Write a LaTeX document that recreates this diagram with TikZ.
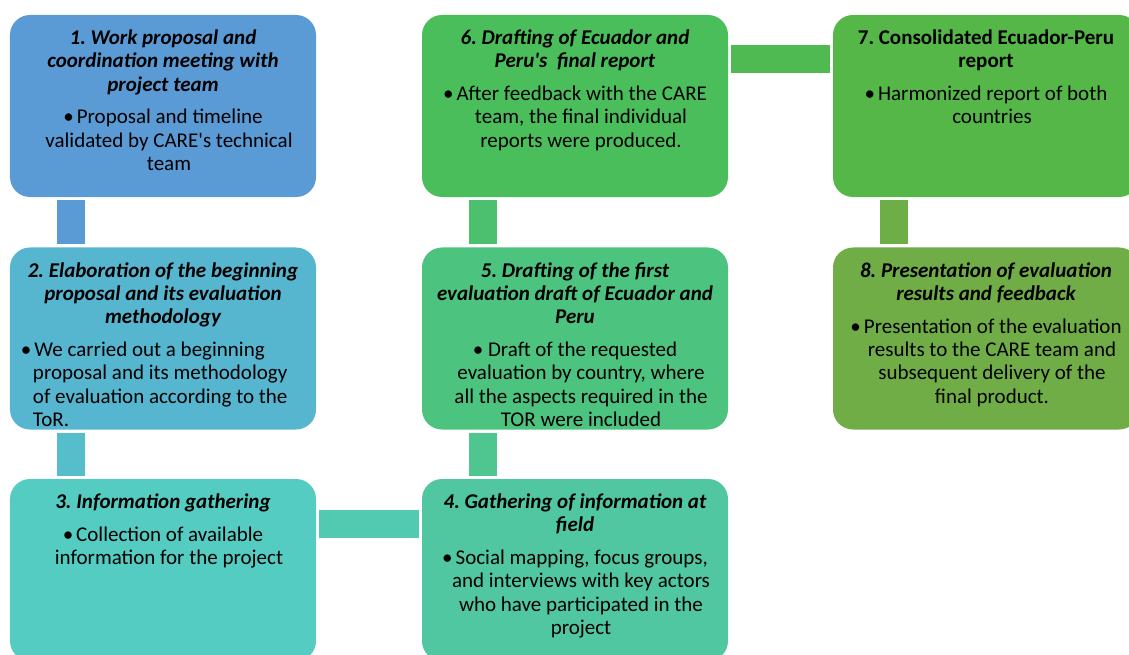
\documentclass[tikz,border=0pt]{standalone}
\usepackage{fontspec}
\setmainfont{Carlito}[Ligatures=TeXOff]
\usepackage{tikz}
\frenchspacing

\definecolor{stepA}{RGB}{91,155,213}
\definecolor{stepB}{RGB}{86,181,207}
\definecolor{stepC}{RGB}{84,204,194}
\definecolor{stepD}{RGB}{80,199,160}
\definecolor{stepE}{RGB}{77,195,128}
\definecolor{stepF}{RGB}{75,190,92}
\definecolor{stepG}{RGB}{84,183,72}
\definecolor{stepH}{RGB}{112,173,71}

% card text: title on top, bullet text below
\newcommand{\card}[2]{\parbox[c][182bp][t]{306bp}{\centering\rule{0pt}{29.5bp}{#1\par}\vspace{9.5bp}#2}}
\newcommand{\indline}{\\\hspace*{12bp}}
\newcommand{\bul}{\textbullet\hspace{3bp}}

\begin{document}
\begin{tikzpicture}[x=1bp,y=-1bp, line cap=butt,
  stepbox/.style={rounded corners=20bp, inner sep=0pt, outer sep=0pt,
    font=\fontsize{21bp}{23.3bp}\selectfont},
  bar/.style={line width=28bp, shorten <=3bp, shorten >=3bp}]
\useasboundingbox (0,0) rectangle (1129,655);

\node (s1) at (163,106) [stepbox, fill=stepA] {\card{\bfseries\itshape 1. Work proposal and\\coordination meeting with\\project team}{\bul Proposal and timeline\indline validated by CARE's technical\indline team}};
\node (s2) at (163,338.5) [stepbox, fill=stepB] {\card{\bfseries\itshape 2. Elaboration of the beginning\\proposal and its evaluation\\methodology}{{\raggedright\leftskip=23bp\hspace{-12bp}\bul We carried out a beginning\\proposal and its methodology\\of evaluation according to the\\ToR.\par}}};
\node (s3) at (163,570) [stepbox, fill=stepC] {\card{\bfseries\itshape 3. Information gathering}{\bul Collection of available\indline information for the project}};
\node (s4) at (575,570) [stepbox, fill=stepD] {\card{\bfseries\itshape 4. Gathering of information at\\field}{\bul Social mapping, focus groups,\indline and interviews with key actors\indline who have participated in the\indline project}};
\node (s5) at (575,338.5) [stepbox, fill=stepE] {\card{\bfseries\itshape 5. Drafting of the first\\evaluation draft of Ecuador and\\Peru}{\textbullet\ Draft of the requested\indline evaluation by country, where\indline all the aspects required in the\indline TOR were included}};
\node (s6) at (575,106) [stepbox, fill=stepF] {\card{\bfseries\itshape 6. Drafting of Ecuador and\\Peru's~ final report}{\bul After feedback with the CARE\indline team, the final individual\indline reports were produced.}};
\node (s7) at (986,106) [stepbox, fill=stepG] {\card{\bfseries 7. Consolidated Ecuador-Peru\\report}{\bul Harmonized report of both\indline countries}};
\node (s8) at (986,338.5) [stepbox, fill=stepH] {\card{\bfseries\itshape 8. Presentation of evaluation\\results and feedback}{\bul Presentation of the evaluation\indline results to the CARE team and\indline subsequent delivery of the\indline final product.}};

% connecting bars
\draw[bar, draw=stepA] ([xshift=61bp]s1.south west) -- ([xshift=61bp]s2.north west);
\draw[bar, draw=stepB!60!stepC] ([xshift=61bp]s2.south west) -- ([xshift=61bp]s3.north west);
\draw[bar, draw=stepC!50!stepD] ([yshift=-45bp]s3.north east) -- ([yshift=-45bp]s4.north west);
\draw[bar, draw=stepD!50!stepE] ([xshift=61bp]s4.north west) -- ([xshift=61bp]s5.south west);
\draw[bar, draw=stepE!50!stepF] ([xshift=61bp]s5.north west) -- ([xshift=61bp]s6.south west);
\draw[bar, draw=stepF!50!stepG] ([yshift=-44.5bp]s6.north east) -- ([yshift=-44.5bp]s7.north west);
\draw[bar, draw=stepH!90!stepG] ([xshift=61bp]s7.south west) -- ([xshift=61bp]s8.north west);
\end{tikzpicture}
\end{document}
